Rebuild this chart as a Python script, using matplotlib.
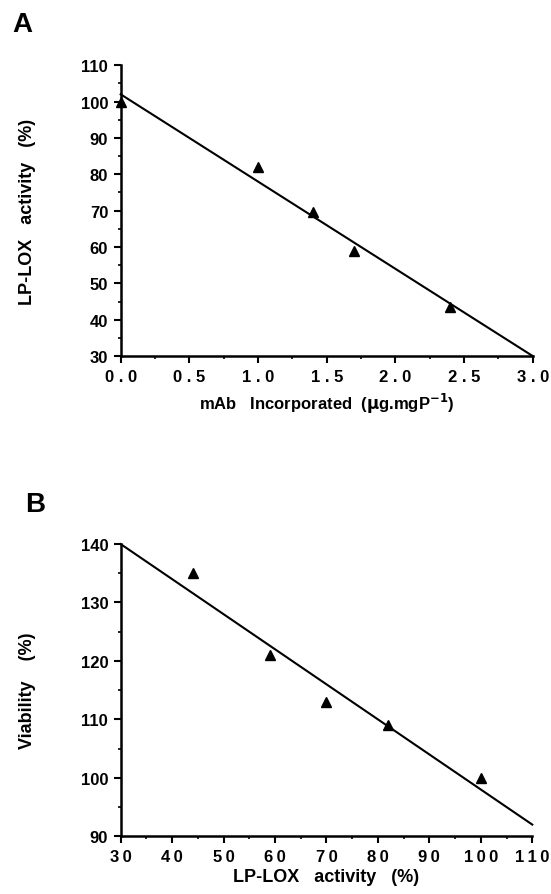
import numpy as np
import matplotlib
matplotlib.use("Agg")
import matplotlib.pyplot as plt
from matplotlib.ticker import MultipleLocator

plt.rcParams['font.family'] = ['Liberation Sans', 'DejaVu Sans']

# panel A: LP-LOX activity vs incorporated mAb
mab = [0.0, 1.0, 1.4, 1.7, 2.4]
activity = [100, 82, 69.5, 59, 43.5]
fit_a_x = [0.0, 3.0]
fit_a_y = [102, 30]
xticks_a = [0.0, 0.5, 1.0, 1.5, 2.0, 2.5, 3.0]

# panel B: viability vs LP-LOX activity
lox = [44, 59, 70, 82, 100]
viability = [135, 121, 113, 109, 100]
fit_b_x = [30, 110]
fit_b_y = [140, 92]
xticks_b = [30, 40, 50, 60, 70, 80, 90, 100, 110]


def spaced(s, sep):
	# the original typesetting has wide letter spacing on the x tick labels
	return sep.join(s)


def style(ax):
	ax.spines['top'].set_visible(False)
	ax.spines['right'].set_visible(False)
	for s in ['left', 'bottom']:
		ax.spines[s].set_linewidth(1.8)
	ax.tick_params(which='major', direction='out', length=5, width=1.5, labelsize=12, pad=4)
	ax.tick_params(which='minor', direction='out', length=2.5, width=1.2)
	for lab in ax.get_xticklabels() + ax.get_yticklabels():
		lab.set_fontweight('bold')


fig = plt.figure(figsize=(5.51, 8.95), dpi=100)

# --- A ---
ax1 = fig.add_axes([0.219, 0.601, 0.748, 0.325])
ax1.plot(fit_a_x, fit_a_y, color='black', lw=1.5, clip_on=False)
ax1.plot(mab, activity, '^', color='black', ms=6.5, clip_on=False)
ax1.set_xlim(0, 3.0)
ax1.set_ylim(30, 110)
ax1.xaxis.set_minor_locator(MultipleLocator(0.25))
ax1.yaxis.set_major_locator(MultipleLocator(10))
ax1.yaxis.set_minor_locator(MultipleLocator(5))
ax1.set_xticks(xticks_a)
ax1.set_xticklabels([spaced('%.1f' % v, ' ') for v in xticks_a])
style(ax1)
ax1.set_ylabel('LP-LOX   activity   (%)', fontsize=13, fontweight='bold')
ax1.yaxis.set_label_coords(-0.205, 0.5)
ax1.set_xlabel(r'mAb   Incorporated  ($\mathbf{\mu}$g.mgP$^{\mathbf{-1}}$)', fontsize=12, fontweight='bold', labelpad=5)
fig.text(0.022, 0.972, 'A', fontsize=20, fontweight='bold', va='center')

# --- B ---
ax2 = fig.add_axes([0.219, 0.0645, 0.747, 0.3265])
ax2.plot(fit_b_x, fit_b_y, color='black', lw=1.5, clip_on=False)
ax2.plot(lox, viability, '^', color='black', ms=6.5, clip_on=False)
ax2.set_xlim(30, 110)
ax2.set_ylim(90, 140)
ax2.xaxis.set_minor_locator(MultipleLocator(5))
ax2.yaxis.set_major_locator(MultipleLocator(10))
ax2.yaxis.set_minor_locator(MultipleLocator(5))
ax2.set_xticks(xticks_b)
ax2.set_xticklabels([spaced(str(v), '\u2009') for v in xticks_b])
style(ax2)
ax2.set_ylabel('Viability    (%)', fontsize=13, fontweight='bold')
ax2.yaxis.set_label_coords(-0.205, 0.5)
ax2.set_xlabel('LP-LOX   activity   (%)', fontsize=13, fontweight='bold', labelpad=3)
fig.text(0.045, 0.436, 'B', fontsize=20, fontweight='bold', va='center')

fig.savefig('out.png', dpi=100)
